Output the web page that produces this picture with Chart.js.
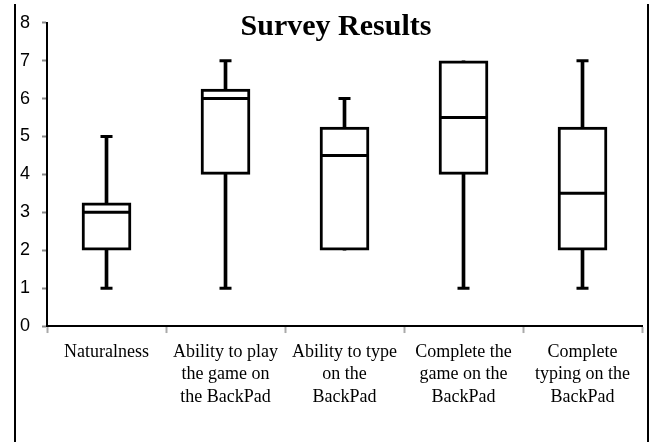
<!DOCTYPE html>
<html>
<head>
<meta charset="utf-8">
<script src="https://cdn.jsdelivr.net/npm/chart.js@4"></script>
<style>
    html, body { margin: 0; padding: 0; background: #fff; overflow: hidden; }
    #wrap { position: relative; width: 649px; height: 442px; }
    #frame {
        position: absolute; left: 14px; top: 4px; width: 635px; height: 460px;
        box-sizing: border-box;
        border-left: 2px solid #000; border-right: 2px solid #000;
        pointer-events: none;
    }
</style>
</head>
<body>
<div id="wrap">
    <canvas id="chart" width="649" height="442"></canvas>
    <div id="frame"></div>
</div>
<script>
// survey categories (multi-line labels)
const categories = [
    ['Naturalness'],
    ['Ability to play', 'the game on', 'the BackPad'],
    ['Ability to type', 'on the', 'BackPad'],
    ['Complete the', 'game on the', 'BackPad'],
    ['Complete', 'typing on the', 'BackPad']
];

// five-number summaries
const minValues    = [1, 1, 2, 1, 1];
const q1Values     = [2, 4, 2, 4, 2];
const medianValues = [3, 6, 4.5, 5.5, 3.5];
const q3Values     = [3.25, 6.25, 5.25, 7, 5.25];
const maxValues    = [5, 7, 6, 7, 7];

const yTicks = [0, 1, 2, 3, 4, 5, 6, 7, 8];

// Title sits over the plot area, like the original
const titlePlugin = {
    id: 'overTitle',
    afterDraw(chart) {
        const ctx = chart.ctx;
        ctx.save();
        ctx.font = 'bold 30px "Liberation Serif", "Times New Roman", serif';
        ctx.fillStyle = '#000';
        ctx.textAlign = 'center';
        ctx.textBaseline = 'alphabetic';
        ctx.fillText('Survey Results', 336, 35);
        ctx.restore();
    }
};

// hide a cap when the whisker has no length
const capRadius = (ends, edges) => (c) => ends[c.dataIndex] === edges[c.dataIndex] ? 0 : 6;

const ctx = document.getElementById('chart').getContext('2d');
new Chart(ctx, {
    type: 'bar',
    data: {
        labels: categories,
        datasets: [
            {
                // median bars
                type: 'line',
                data: medianValues,
                showLine: false,
                pointStyle: 'line',
                pointRadius: 24,
                pointBorderWidth: 3,
                pointBorderColor: '#000',
                order: -1
            },
            {
                // boxes
                data: q1Values.map((q, i) => [q, q3Values[i]]),
                backgroundColor: '#fff',
                borderColor: '#000',
                borderWidth: 3,
                borderSkipped: false,
                barThickness: 49,
                grouped: false,
                order: 0
            },
            {
                // top caps
                type: 'line',
                data: maxValues,
                showLine: false,
                pointStyle: 'line',
                pointRadius: capRadius(maxValues, q3Values),
                pointBorderWidth: 3,
                pointBorderColor: '#000',
                order: 1
            },
            {
                // bottom caps
                type: 'line',
                data: minValues,
                showLine: false,
                pointStyle: 'line',
                pointRadius: capRadius(minValues, q1Values),
                pointBorderWidth: 3,
                pointBorderColor: '#000',
                order: 1
            },
            {
                // whiskers
                data: minValues.map((m, i) => [m, maxValues[i]]),
                backgroundColor: '#000',
                borderWidth: 0,
                barThickness: 3,
                grouped: false,
                order: 2
            }
        ]
    },
    options: {
        responsive: false,
        animation: false,
        layout: {
            autoPadding: false,
            padding: { top: 12, left: 8, right: 7, bottom: 26 }
        },
        scales: {
            x: {
                grid: {
                    display: true,
                    drawOnChartArea: false,
                    tickLength: 7,
                    tickColor: '#aaa',
                    tickWidth: 2
                },
                border: { color: '#000', width: 2 },
                ticks: {
                    color: '#000',
                    font: { family: '"Liberation Serif", "Times New Roman", serif', size: 18, lineHeight: 1.24 },
                    maxRotation: 0,
                    autoSkip: false,
                    padding: 8
                }
            },
            y: {
                min: 0,
                max: 8,
                afterBuildTicks: (scale) => { scale.ticks = yTicks.map(v => ({ value: v })); },
                grid: {
                    display: true,
                    drawOnChartArea: false,
                    tickLength: 5,
                    tickColor: '#888',
                    tickWidth: 2
                },
                border: { color: '#000', width: 2 },
                ticks: {
                    color: '#000',
                    font: { family: '"Liberation Sans", Arial, sans-serif', size: 18 },
                    padding: 12
                }
            }
        },
        plugins: {
            legend: { display: false },
            tooltip: { enabled: false },
            title: { display: false }
        }
    },
    plugins: [titlePlugin]
});
</script>
</body>
</html>
